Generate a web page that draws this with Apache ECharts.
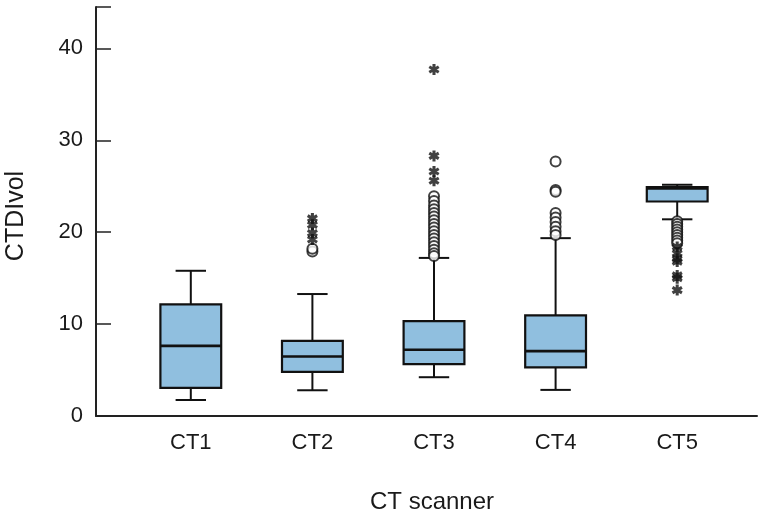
<!DOCTYPE html>
<html>
<head>
<meta charset="utf-8">
<script src="https://cdn.jsdelivr.net/npm/echarts@6/dist/echarts.min.js"></script>
<style>
  html, body { margin: 0; padding: 0; background: #fff; }
  #chart { width: 767px; height: 513px; }
</style>
</head>
<body>
<div id="chart"></div>
<script>
// ---- data ----
const categories = ['CT1', 'CT2', 'CT3', 'CT4', 'CT5'];
const whiskerLow  = [1.74, 2.8, 4.22, 2.84, 21.4];
const quartile1   = [3.05, 4.8, 5.64, 5.28, 23.34];
const medians     = [7.63, 6.47, 7.2, 7.06, 24.75];
const quartile3   = [12.15, 8.18, 10.33, 10.95, 24.9];
const whiskerHigh = [15.8, 13.27, 17.2, 19.35, 25.16];

const circlesCT2 = [17.9, 18.2];
const circlesCT3 = [23.9, 23.4, 22.9, 22.5, 22.1, 21.7, 21.3, 20.9, 20.5, 20.1, 19.7, 19.3, 18.9, 18.5, 18.1, 17.7, 17.4];
const circlesCT4 = [27.7, 24.6, 24.4, 22.1, 21.6, 21.1, 20.6, 20.1, 19.7];
const circlesCT5 = [21.2, 20.9, 20.6, 20.3, 20.0, 19.7, 19.4, 19.1, 18.8];

const starsCT2 = [21.5, 20.8, 19.9, 19.2];
const starsCT3 = [37.7, 28.3, 26.6, 25.6];
const starsCT5 = [18.4, 17.7, 17.1, 16.8, 15.3, 15.0, 13.7];

const yTicks = [0, 10, 20, 30, 40];

// ---- build ----
const boxData = categories.map((c, i) => [i, whiskerLow[i], quartile1[i], medians[i], quartile3[i], whiskerHigh[i]]);
function pts(cat, arr) { return arr.map(v => [cat, v]); }
const circleData = [].concat(pts('CT2', circlesCT2), pts('CT3', circlesCT3), pts('CT4', circlesCT4), pts('CT5', circlesCT5));
const starData = [].concat(pts('CT2', starsCT2), pts('CT3', starsCT3), pts('CT5', starsCT5));

const starPath = 'path://M-1.4,-5 L1.4,-5 L1.4,5 L-1.4,5 Z ' +
  'M-5.03,-1.29 L-3.63,-3.71 L5.03,1.29 L3.63,3.71 Z ' +
  'M3.63,-3.71 L5.03,-1.29 L-3.63,3.71 L-5.03,1.29 Z';

const FONT = 'Liberation Sans, Arial, Helvetica, sans-serif';
const INK = '#111';
const Y_MAX = 44.5;

const chart = echarts.init(document.getElementById('chart'), null, { renderer: 'canvas' });

chart.setOption({
  animation: false,
  backgroundColor: '#fff',
  grid: [
    { left: 96, right: 10, top: 7, bottom: 97 },
    { left: 130, right: 29, top: 7, bottom: 97 }
  ],
  xAxis: [
    {
      gridIndex: 0, type: 'value', min: 0, max: 1,
      axisLine: { show: true, onZero: false, lineStyle: { color: '#222', width: 2 } },
      axisTick: { show: false }, axisLabel: { show: false }, splitLine: { show: false }
    },
    {
      gridIndex: 1, type: 'category', data: categories, boundaryGap: true,
      axisLine: { show: false }, axisTick: { show: false }, splitLine: { show: false },
      axisLabel: { margin: 16, fontSize: 22, fontFamily: FONT, color: '#1a1a1a' }
    }
  ],
  yAxis: [
    {
      gridIndex: 0, type: 'value', min: 0, max: Y_MAX, interval: 10,
      axisLine: { show: true, lineStyle: { color: '#222', width: 2 } },
      axisTick: { show: true, inside: true, length: 15, lineStyle: { color: '#222', width: 1.5 } },
      axisLabel: {
        margin: 13, fontSize: 22, fontFamily: FONT, color: '#1a1a1a',
        formatter: v => (yTicks.indexOf(v) >= 0 ? String(v) : '')
      },
      splitLine: { show: false }
    },
    {
      gridIndex: 1, type: 'value', min: 0, max: Y_MAX, interval: 10, show: false
    }
  ],
  graphic: [
    {
      type: 'text', x: 16, y: 216, rotation: Math.PI / 2,
      style: { text: 'CTDIvol', fontSize: 25, fontFamily: FONT, fill: '#1a1a1a', align: 'center', verticalAlign: 'middle' }
    },
    {
      type: 'text', x: 432, y: 502,
      style: { text: 'CT scanner', fontSize: 24, fontFamily: FONT, fill: '#1a1a1a', align: 'center', verticalAlign: 'middle' }
    }
  ],
  series: [
    {
      type: 'custom',
      xAxisIndex: 1, yAxisIndex: 1,
      data: boxData,
      encode: { x: 0, y: [1, 2, 3, 4, 5] },
      renderItem: function (params, api) {
        const i = api.value(0);
        const lo = api.coord([i, api.value(1)]);
        const b1 = api.coord([i, api.value(2)]);
        const md = api.coord([i, api.value(3)]);
        const b3 = api.coord([i, api.value(4)]);
        const hi = api.coord([i, api.value(5)]);
        const band = api.size([1, 0])[0];
        const bw = band * 0.5;
        const cw = band * 0.25;
        const x = lo[0];
        const ls = { stroke: INK, lineWidth: 2 };
        return {
          type: 'group',
          children: [
            { type: 'line', shape: { x1: x, y1: hi[1], x2: x, y2: b3[1] }, style: ls },
            { type: 'line', shape: { x1: x, y1: b1[1], x2: x, y2: lo[1] }, style: ls },
            { type: 'line', shape: { x1: x - cw / 2, y1: hi[1], x2: x + cw / 2, y2: hi[1] }, style: ls },
            { type: 'line', shape: { x1: x - cw / 2, y1: lo[1], x2: x + cw / 2, y2: lo[1] }, style: ls },
            { type: 'rect', shape: { x: x - bw / 2, y: b3[1], width: bw, height: b1[1] - b3[1] },
              style: { fill: '#90bfdf', stroke: INK, lineWidth: 2.2 } },
            { type: 'line', shape: { x1: x - bw / 2, y1: md[1], x2: x + bw / 2, y2: md[1] },
              style: { stroke: INK, lineWidth: 2.6 } }
          ]
        };
      },
      z: 2
    },
    {
      type: 'scatter', xAxisIndex: 1, yAxisIndex: 1,
      data: circleData,
      symbol: 'emptyCircle', symbolSize: 10,
      itemStyle: { color: INK, borderColor: INK, borderWidth: 2.5 },
      z: 3
    },
    {
      type: 'scatter', xAxisIndex: 1, yAxisIndex: 1,
      data: starData,
      symbol: starPath, symbolSize: 11,
      itemStyle: { color: INK },
      z: 3
    }
  ]
});
</script>
</body>
</html>
